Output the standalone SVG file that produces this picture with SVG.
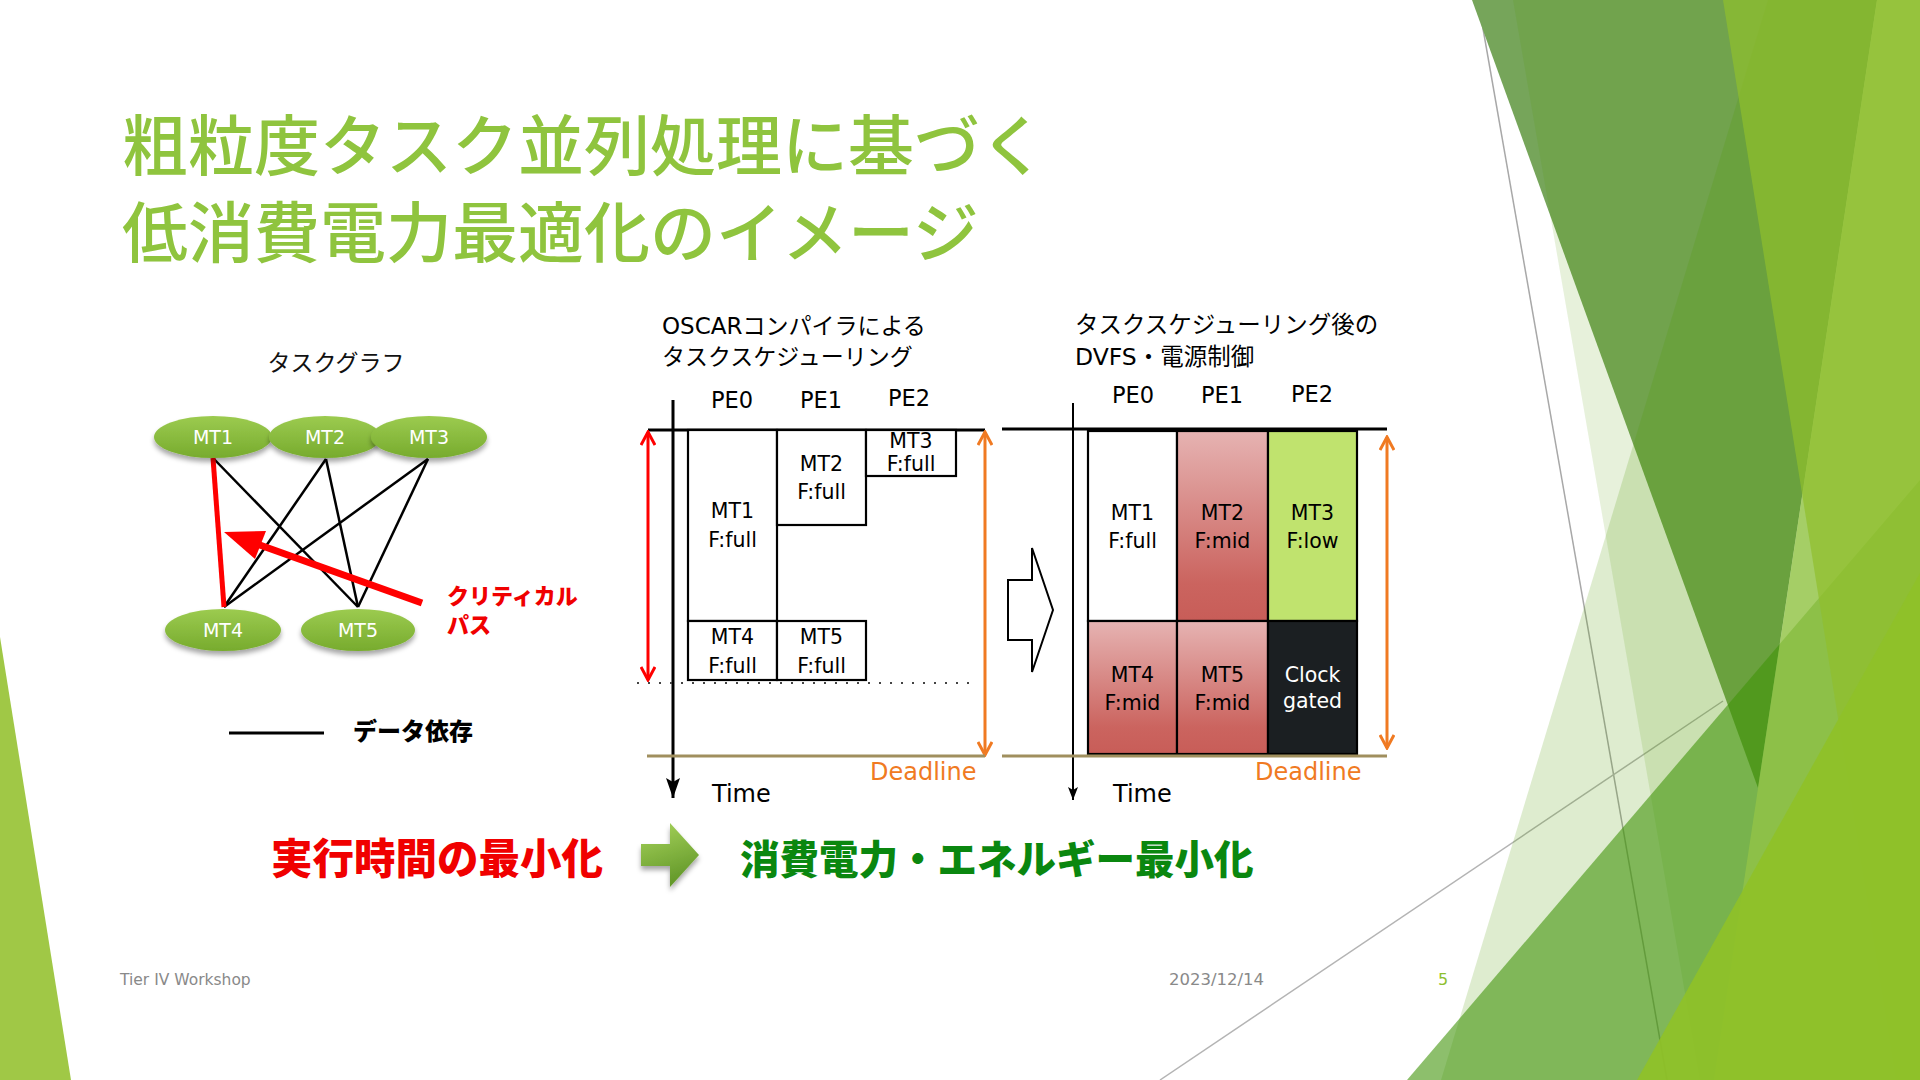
<svg xmlns="http://www.w3.org/2000/svg" width="1920" height="1080" viewBox="0 0 1920 1080">
<style>
.jp{font-family:"Noto Sans CJK JP",sans-serif;}
.lat{font-family:"DejaVu Sans","Noto Sans CJK JP",sans-serif;}
.lbl{font-family:"DejaVu Sans",sans-serif;font-size:20.5px;fill:#000;text-anchor:middle;}
.nlbl{font-family:"DejaVu Sans",sans-serif;font-size:19px;fill:#fff;text-anchor:middle;}
.pe{font-family:"DejaVu Sans",sans-serif;font-size:22.5px;fill:#000;text-anchor:middle;}
.box{stroke:#000;stroke-width:2.2;}
.edge{stroke:#000;stroke-width:2.5;fill:none;}
.dl{stroke:#A08F5E;stroke-width:3;}
.orange{fill:#F07A22;}
</style>
<defs>
<linearGradient id="nodeGrad" x1="0" y1="0" x2="0" y2="1">
<stop offset="0" stop-color="#9CCB50"/>
<stop offset="1" stop-color="#77AB2D"/>
</linearGradient>
<linearGradient id="redGrad" x1="0" y1="0" x2="0" y2="1">
<stop offset="0" stop-color="#E6B3B2"/>
<stop offset="0.8" stop-color="#CB645F"/>
<stop offset="1" stop-color="#C85D58"/>
</linearGradient>
<linearGradient id="arrowGrad" x1="0" y1="0" x2="0.3" y2="1">
<stop offset="0" stop-color="#A8D45C"/>
<stop offset="1" stop-color="#64992A"/>
</linearGradient>
<filter id="shadow" x="-20%" y="-30%" width="140%" height="180%">
<feDropShadow dx="0" dy="4" stdDeviation="2.5" flood-color="#000" flood-opacity="0.35"/>
</filter>
<marker id="chevR" viewBox="0 0 16 16" refX="14" refY="8" markerWidth="16" markerHeight="16" markerUnits="userSpaceOnUse" orient="auto-start-reverse">
<path d="M1,1 L14,8 L1,15" fill="none" stroke="#FF0000" stroke-width="3"/>
</marker>
<marker id="chevO" viewBox="0 0 16 16" refX="14" refY="8" markerWidth="16" markerHeight="16" markerUnits="userSpaceOnUse" orient="auto-start-reverse">
<path d="M1,1 L14,8 L1,15" fill="none" stroke="#F07A22" stroke-width="3"/>
</marker>
<marker id="timeBig" viewBox="0 0 20 14" refX="20" refY="7" markerWidth="20" markerHeight="14" markerUnits="userSpaceOnUse" orient="auto">
<path d="M0,0 L20,7 L0,14 L4,7 Z" fill="#000"/>
</marker>
<marker id="timeSmall" viewBox="0 0 13 10" refX="13" refY="5" markerWidth="13" markerHeight="10" markerUnits="userSpaceOnUse" orient="auto">
<path d="M0,0 L13,5 L0,10 L3,5 Z" fill="#000"/>
</marker>
</defs>

<!-- background -->
<g id="background">
<rect x="0" y="0" width="1920" height="1080" fill="#FFFFFF"/>
<polygon points="0,637 71,1080 0,1080" fill="#A0C846"/>
<line x1="1478" y1="0" x2="1667" y2="1080" stroke="#A8A8A8" stroke-width="1.5"/>
<line x1="1160" y1="1080" x2="1723" y2="701" stroke="#B4B4B4" stroke-width="1.5"/>
<polygon points="1472,0 1877,0 1758,788" fill="rgb(118,165,90)"/>
<polygon points="1513,0 1920,0 1920,1080 1700,1080" fill="rgb(85,155,0)" fill-opacity="0.14"/>
<polygon points="1768,0 1920,0 1920,1080 1441,1080" fill="rgb(80,153,0)" fill-opacity="0.19"/>
<polygon points="1407,1080 1920,480 1920,1080" fill="rgb(65,149,10)" fill-opacity="0.6"/>
<polygon points="1877,0 1920,0 1920,1080 1714,1080" fill="rgb(150,198,70)" fill-opacity="0.7"/>
<polygon points="1723,0 1920,0 1920,1080 1896,1080" fill="rgb(144,191,44)" fill-opacity="0.7"/>
<polygon points="1637,1080 1920,573 1920,1080" fill="rgb(143,193,40)" fill-opacity="0.92"/>
</g>

<!-- title -->
<g id="title" class="jp" fill="#8FC43E" font-size="66" font-weight="500">
<text x="122" y="170">粗粒度タスク並列処理に基づく</text>
<text x="122" y="257">低消費電力最適化のイメージ</text>
</g>

<!-- task graph -->
<text id="taskgraph-title" class="jp" x="336" y="371" font-size="23" text-anchor="middle" fill="#111">タスクグラフ</text>

<g id="connectors">
<line class="edge" x1="213" y1="458" x2="358" y2="607"/>
<line class="edge" x1="326" y1="459" x2="224" y2="607"/>
<line class="edge" x1="326" y1="459" x2="358" y2="607"/>
<line class="edge" x1="428" y1="459" x2="224" y2="607"/>
<line class="edge" x1="428" y1="459" x2="358" y2="607"/>
<line id="critical-edge" x1="213" y1="458" x2="224" y2="607" stroke="#FF0000" stroke-width="5"/>
</g>

<g id="node-MT1">
<ellipse cx="213" cy="437" rx="59" ry="21" fill="url(#nodeGrad)" filter="url(#shadow)"/>
<text class="nlbl" x="213" y="444">MT1</text>
</g>
<g id="node-MT2">
<ellipse cx="325" cy="437" rx="56" ry="21" fill="url(#nodeGrad)" filter="url(#shadow)"/>
<text class="nlbl" x="325" y="444">MT2</text>
</g>
<g id="node-MT3">
<ellipse cx="429" cy="437" rx="58" ry="21" fill="url(#nodeGrad)" filter="url(#shadow)"/>
<text class="nlbl" x="429" y="444">MT3</text>
</g>
<g id="node-MT4">
<ellipse cx="223" cy="630" rx="58" ry="21" fill="url(#nodeGrad)" filter="url(#shadow)"/>
<text class="nlbl" x="223" y="637">MT4</text>
</g>
<g id="node-MT5">
<ellipse cx="358" cy="630" rx="57" ry="21" fill="url(#nodeGrad)" filter="url(#shadow)"/>
<text class="nlbl" x="358" y="637">MT5</text>
</g>

<g id="critical-path-label">
<line x1="422" y1="603" x2="257" y2="544" stroke="#FF0000" stroke-width="7"/>
<polygon points="224,532 266,531 255,559" fill="#FF0000"/>
<text class="jp" x="447" y="604" font-size="22" font-weight="900" fill="#F00000">クリティカル</text>
<text class="jp" x="447" y="633" font-size="22" font-weight="900" fill="#F00000">パス</text>
</g>

<g id="legend">
<line x1="229" y1="733" x2="324" y2="733" stroke="#000" stroke-width="3"/>
<text class="jp" x="353" y="740" font-size="24" font-weight="900" fill="#000">データ依存</text>
</g>

<!-- chart 1 -->
<g id="chart1">
<text class="lat" x="662" y="334" font-size="23" fill="#000">OSCARコンパイラによる</text>
<text class="jp" x="662" y="365" font-size="23" fill="#000">タスクスケジューリング</text>
<text class="pe" x="732" y="408">PE0</text>
<text class="pe" x="821" y="408">PE1</text>
<text class="pe" x="909" y="406">PE2</text>
<line x1="648" y1="430" x2="985" y2="430" stroke="#000" stroke-width="3"/>
<line x1="673" y1="400" x2="673" y2="798" stroke="#000" stroke-width="3" marker-end="url(#timeBig)"/>
<line x1="637" y1="683" x2="977" y2="683" stroke="#444" stroke-width="2" stroke-dasharray="2 9"/>
<g id="c1-MT1"><rect class="box" x="688" y="430" width="89" height="191" fill="#fff"/>
<text class="lbl" x="732.5" y="518">MT1</text><text class="lbl" x="732.5" y="547">F:full</text></g>
<g id="c1-MT2"><rect class="box" x="777" y="430" width="89" height="95" fill="#fff"/>
<text class="lbl" x="821.5" y="471">MT2</text><text class="lbl" x="821.5" y="499">F:full</text></g>
<g id="c1-MT3"><rect class="box" x="866" y="430" width="90" height="46" fill="#fff"/>
<text class="lbl" x="911" y="448" font-size="19">MT3</text><text class="lbl" x="911" y="471" font-size="19">F:full</text></g>
<g id="c1-MT4"><rect class="box" x="688" y="621" width="89" height="59" fill="#fff"/>
<text class="lbl" x="732.5" y="644">MT4</text><text class="lbl" x="732.5" y="673">F:full</text></g>
<g id="c1-MT5"><rect class="box" x="777" y="621" width="89" height="59" fill="#fff"/>
<text class="lbl" x="821.5" y="644">MT5</text><text class="lbl" x="821.5" y="673">F:full</text></g>
<line x1="648" y1="432" x2="648" y2="680" stroke="#FF0000" stroke-width="3" marker-start="url(#chevR)" marker-end="url(#chevR)"/>
<line x1="985" y1="432" x2="985" y2="755" stroke="#F07A22" stroke-width="3" marker-start="url(#chevO)" marker-end="url(#chevO)"/>
<line class="dl" x1="647" y1="756" x2="985" y2="756"/>
<text class="lat orange" x="870" y="780" font-size="24">Deadline</text>
<text class="lat" x="712" y="802" font-size="24" fill="#000">Time</text>
</g>

<!-- block arrow between charts -->
<g id="transition-arrow">
<polygon points="1008,580 1032,580 1032,548 1053,610 1032,672 1032,640 1008,640" fill="#fff" stroke="#000" stroke-width="2"/>
</g>

<!-- chart 2 -->
<g id="chart2">
<text class="jp" x="1075" y="333" font-size="23.5" fill="#000">タスクスケジューリング後の</text>
<text class="lat" x="1075" y="365" font-size="23.5" fill="#000">DVFS・電源制御</text>
<text class="pe" x="1133" y="403">PE0</text>
<text class="pe" x="1222" y="403">PE1</text>
<text class="pe" x="1312" y="402">PE2</text>
<line x1="1002" y1="429" x2="1387" y2="429" stroke="#000" stroke-width="3"/>
<line x1="1073" y1="403" x2="1073" y2="800" stroke="#000" stroke-width="2" marker-end="url(#timeSmall)"/>
<g id="c2-MT1"><rect class="box" x="1088" y="431" width="89" height="190" fill="#fff"/>
<text class="lbl" x="1132.5" y="520">MT1</text><text class="lbl" x="1132.5" y="548">F:full</text></g>
<g id="c2-MT2"><rect class="box" x="1177" y="431" width="91" height="190" fill="url(#redGrad)"/>
<text class="lbl" x="1222.5" y="520">MT2</text><text class="lbl" x="1222.5" y="548">F:mid</text></g>
<g id="c2-MT3"><rect class="box" x="1268" y="431" width="89" height="190" fill="#C0E36E"/>
<text class="lbl" x="1312.5" y="520">MT3</text><text class="lbl" x="1312.5" y="548">F:low</text></g>
<g id="c2-MT4"><rect class="box" x="1088" y="621" width="89" height="133" fill="url(#redGrad)"/>
<text class="lbl" x="1132.5" y="682">MT4</text><text class="lbl" x="1132.5" y="710">F:mid</text></g>
<g id="c2-MT5"><rect class="box" x="1177" y="621" width="91" height="133" fill="url(#redGrad)"/>
<text class="lbl" x="1222.5" y="682">MT5</text><text class="lbl" x="1222.5" y="710">F:mid</text></g>
<g id="c2-clock"><rect class="box" x="1268" y="621" width="89" height="133" fill="#1B1F22"/>
<text class="lbl" x="1312.5" y="682" style="fill:#fff">Clock</text><text class="lbl" x="1312.5" y="708" style="fill:#fff">gated</text></g>
<line x1="1387" y1="437" x2="1387" y2="748" stroke="#F07A22" stroke-width="3" marker-start="url(#chevO)" marker-end="url(#chevO)"/>
<line class="dl" x1="1002" y1="756" x2="1387" y2="756"/>
<text class="lat orange" x="1255" y="780" font-size="24">Deadline</text>
<text class="lat" x="1113" y="802" font-size="24" fill="#000">Time</text>
</g>

<!-- bottom message -->
<g id="message">
<text class="jp" x="271" y="874" font-size="41.5" font-weight="900" fill="#F00000">実行時間の最小化</text>
<polygon points="641,844 670,844 670,823 699,855 670,887 670,866 641,866" fill="url(#arrowGrad)" filter="url(#shadow)"/>
<text class="jp" x="740" y="874" font-size="39.5" font-weight="900" fill="#0A870F">消費電力・エネルギー最小化</text>
</g>

<!-- footer -->
<g id="footer" font-family="DejaVu Sans, sans-serif">
<text x="120" y="985" font-size="15.5" fill="#898989">Tier IV Workshop</text>
<text x="1169" y="985" font-size="16.5" fill="#898989">2023/12/14</text>
<text x="1438" y="985" font-size="16" fill="#8DBF2E">5</text>
</g>
</svg>
